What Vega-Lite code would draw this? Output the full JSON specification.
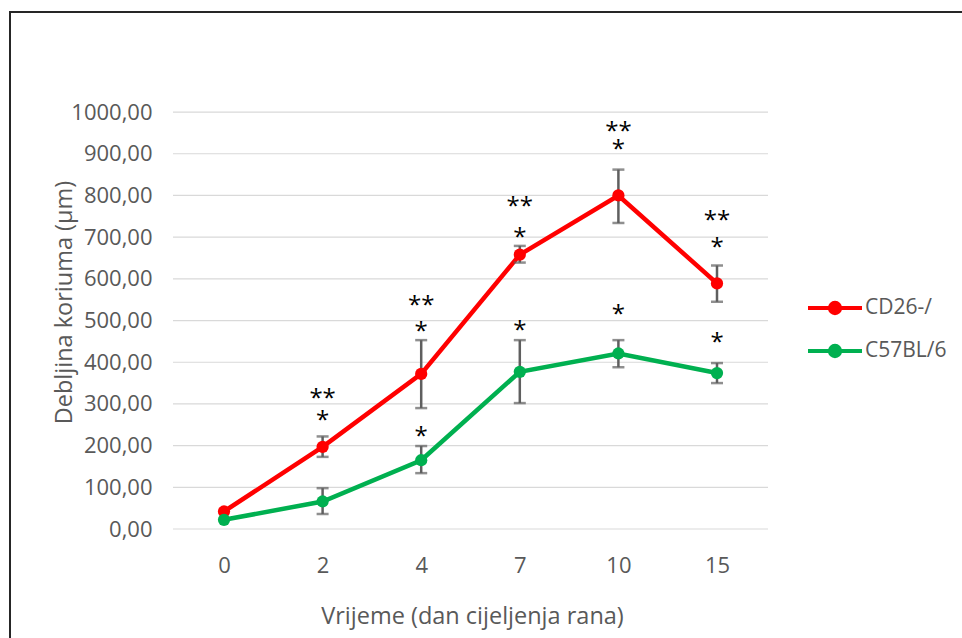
{
  "$schema": "https://vega.github.io/schema/vega-lite/v6.json",
  "autosize": {"type": "none"},
  "padding": {"left": 10, "top": 12, "right": 0, "bottom": 0},
  "width": 970,
  "height": 640,
  "background": "white",
  "config": {
    "view": {"stroke": "#262626", "strokeWidth": 2},
    "font": "Open Sans",
    "text": {"font": "Open Sans"}
  },
  "datasets": {
    "main": [
      {"day": "0", "series": "CD26-/", "value": 42, "lo": null, "hi": null},
      {"day": "2", "series": "CD26-/", "value": 197, "lo": 173, "hi": 222},
      {"day": "4", "series": "CD26-/", "value": 372, "lo": 290, "hi": 453},
      {"day": "7", "series": "CD26-/", "value": 658, "lo": 639, "hi": 679},
      {"day": "10", "series": "CD26-/", "value": 800, "lo": 734, "hi": 862},
      {"day": "15", "series": "CD26-/", "value": 589, "lo": 545, "hi": 632},
      {"day": "0", "series": "C57BL/6", "value": 22, "lo": null, "hi": null},
      {"day": "2", "series": "C57BL/6", "value": 66, "lo": 36, "hi": 98},
      {"day": "4", "series": "C57BL/6", "value": 165, "lo": 134, "hi": 199},
      {"day": "7", "series": "C57BL/6", "value": 377, "lo": 302, "hi": 453},
      {"day": "10", "series": "C57BL/6", "value": 421, "lo": 388, "hi": 453},
      {"day": "15", "series": "C57BL/6", "value": 374, "lo": 350, "hi": 398}
    ],
    "stars": [
      {"day": "2", "label": "**", "at": 324},
      {"day": "2", "label": "*", "at": 271},
      {"day": "4", "label": "**", "at": 547},
      {"day": "4", "label": "*", "at": 484},
      {"day": "7", "label": "**", "at": 784},
      {"day": "7", "label": "*", "at": 710},
      {"day": "10", "label": "**", "at": 964},
      {"day": "10", "label": "*", "at": 921},
      {"day": "15", "label": "**", "at": 751},
      {"day": "15", "label": "*", "at": 686},
      {"day": "4", "label": "*", "at": 233},
      {"day": "7", "label": "*", "at": 487},
      {"day": "10", "label": "*", "at": 525},
      {"day": "15", "label": "*", "at": 458}
    ],
    "grid": [
      {"g": 0}, {"g": 100}, {"g": 200}, {"g": 300}, {"g": 400}, {"g": 500},
      {"g": 600}, {"g": 700}, {"g": 800}, {"g": 900}, {"g": 1000}
    ]
  },
  "encoding": {
    "x": {
      "field": "day",
      "type": "ordinal",
      "scale": {"type": "point", "domain": ["0", "2", "4", "7", "10", "15"], "range": [214, 707], "padding": 0},
      "axis": {
        "title": "Vrijeme (dan cijeljenja rana)",
        "orient": "bottom",
        "offset": -107,
        "domain": false,
        "ticks": false,
        "grid": false,
        "labelAngle": 0,
        "labelPadding": 20,
        "labelBaseline": "middle",
        "labelFontSize": 22,
        "labelColor": "#595959",
        "labelFont": "Open Sans",
        "titleFont": "Open Sans",
        "titleFontSize": 23.5,
        "titleFontWeight": "normal",
        "titleColor": "#595959",
        "titleX": 462,
        "titleY": 71,
        "titleBaseline": "middle",
        "titleAlign": "center"
      }
    }
  },
  "layer": [
    {
      "data": {"name": "grid"},
      "mark": {"type": "rule", "color": "#d9d9d9", "strokeWidth": 1.2, "xOffset": -51, "x2Offset": 51},
      "encoding": {
        "x": {"datum": "0", "type": "ordinal"},
        "x2": {"datum": "15"},
        "y": {
          "field": "g",
          "type": "quantitative",
          "title": "Debljina koriuma (µm)",
          "scale": {"domain": [-295, 1240], "nice": false, "zero": false},
          "axis": {
            "title": "Debljina koriuma (µm)",
            "values": [0, 100, 200, 300, 400, 500, 600, 700, 800, 900, 1000],
            "labelExpr": "replace(format(datum.value, '.2f'), '.', ',')",
            "offset": -146,
            "domain": false,
            "ticks": false,
            "grid": false,
            "labelPadding": 4,
            "labelFontSize": 22,
            "labelColor": "#595959",
            "labelFont": "Open Sans",
            "titleFont": "Open Sans",
            "titleFontSize": 23.5,
            "titleFontWeight": "normal",
            "titleColor": "#595959",
            "titleX": -92,
            "titleY": 290,
            "titleAngle": -90,
            "titleBaseline": "middle",
            "titleAlign": "center"
          }
        }
      }
    },
    {
      "data": {"name": "main"},
      "mark": {"type": "line", "strokeWidth": 4.5},
      "encoding": {
        "y": {"field": "value", "type": "quantitative", "title": "Debljina koriuma (µm)"},
        "color": {
          "field": "series",
          "type": "nominal",
          "scale": {"domain": ["CD26-/", "C57BL/6"], "range": ["#ff0000", "#00b050"]},
          "legend": {
            "title": null,
            "orient": "none",
            "legendX": 796,
            "legendY": 267,
            "symbolType": "M-1,0H1M0.19,0A0.19,0.19,0,1,1,-0.19,0A0.19,0.19,0,1,1,0.19,0Z",
            "symbolSize": 2916,
            "symbolStrokeWidth": 4,
            "labelFontSize": 21,
            "labelFont": "Open Sans",
            "labelColor": "#595959",
            "labelOffset": 1,
            "rowPadding": 0,
            "padding": 0,
            "encode": {
              "symbols": {
                "update": {
                  "fill": {"field": "value", "scale": "color"},
                  "stroke": {"field": "value", "scale": "color"},
                  "strokeWidth": {"value": 4}
                }
              }
            }
          }
        }
      }
    },
    {
      "data": {"name": "main"},
      "transform": [{"filter": "datum.lo != null"}],
      "mark": {"type": "errorbar", "color": "#5f5f5f", "thickness": 2.5, "size": 12, "ticks": true},
      "encoding": {
        "y": {"field": "lo", "type": "quantitative", "title": "Debljina koriuma (µm)"},
        "y2": {"field": "hi"}
      }
    },
    {
      "data": {"name": "main"},
      "mark": {"type": "point", "filled": true, "size": 150, "opacity": 1},
      "encoding": {
        "y": {"field": "value", "type": "quantitative", "title": "Debljina koriuma (µm)"},
        "color": {"field": "series", "type": "nominal", "legend": null}
      }
    },
    {
      "data": {"name": "stars"},
      "mark": {"type": "text", "fontSize": 24, "dy": 5, "color": "#000000", "baseline": "middle", "align": "center", "font": "Open Sans"},
      "encoding": {
        "y": {"field": "at", "type": "quantitative", "title": "Debljina koriuma (µm)"},
        "text": {"field": "label"}
      }
    }
  ]
}
